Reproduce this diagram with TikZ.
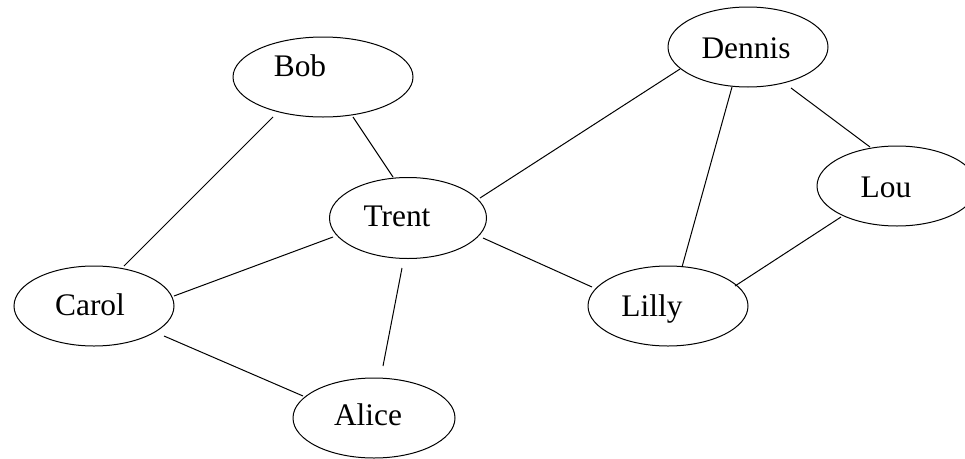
\documentclass[tikz,border=0pt]{standalone}
\usepackage{fontspec}
\setmainfont{Liberation Serif}
\usetikzlibrary{shapes.geometric,calc}
\tikzset{
  ell/.style={draw, ellipse, line width=1pt, inner sep=0pt, minimum width=160pt, minimum height=80pt},
  txt/.style={anchor=base, inner sep=0pt, font=\fontsize{31.4}{36}\selectfont},
  edge/.style={line width=1pt}
}
\begin{document}
\begin{tikzpicture}[x=1pt, y=-1pt]
\useasboundingbox (0,0) rectangle (965,458);
\clip (0,0) rectangle (965,458);
% ellipses
\node[ell] (carol) at (94,306) {};
\node[ell, minimum width=180pt] (bob) at (323,77) {};
\node[ell, minimum width=157pt, minimum height=81pt] (trent) at (408,218) {};
\node[ell] (dennis) at (748,47) {};
\node[ell] (lou) at (897,186) {};
\node[ell] (lilly) at (668,306) {};
\node[ell, minimum width=162pt] (alice) at (374,418) {};
% texts
\node[txt] (carolt) at (90,315) {Carol};
\node[txt] (bobt) at (300,76) {Bob};
\node[txt] (trentt) at (397,226) {Trent};
\node[txt] (dennist) at (746,58) {Dennis};
\node[txt] (lout) at (886,197) {Lou};
\node[txt] (lillyt) at (652,316) {Lilly};
\node[txt] (alicet) at (368,425) {Alice};
% edges
\draw[edge] ($(bob)+(-50,40)$) -- ($(carol)+(30,-40)$);
\draw[edge] ($(bob)+(30,40)$) -- ($(trent)+(-15,-41)$);
\draw[edge] ($(trent)+(-75,19)$) -- ($(carol)+(80,-10)$);
\draw[edge] ($(carol)+(70,30)$) -- ($(alice)+(-71,-22)$);
\draw[edge] ($(trent)+(-6,50)$) -- ($(alice)+(9,-52)$);
\draw[edge] ($(trent)+(72,-20)$) -- ($(dennis)+(-68,22)$);
\draw[edge] ($(trent)+(75,20)$) -- ($(lilly)+(-76,-19)$);
\draw[edge] ($(dennis)+(-16,40)$) -- ($(lilly)+(14,-39)$);
\draw[edge] ($(dennis)+(43,41)$) -- ($(lou)+(-27,-39)$);
\draw[edge] ($(lou)+(-56,31)$) -- ($(lilly)+(67,-20)$);
\end{tikzpicture}
\end{document}
